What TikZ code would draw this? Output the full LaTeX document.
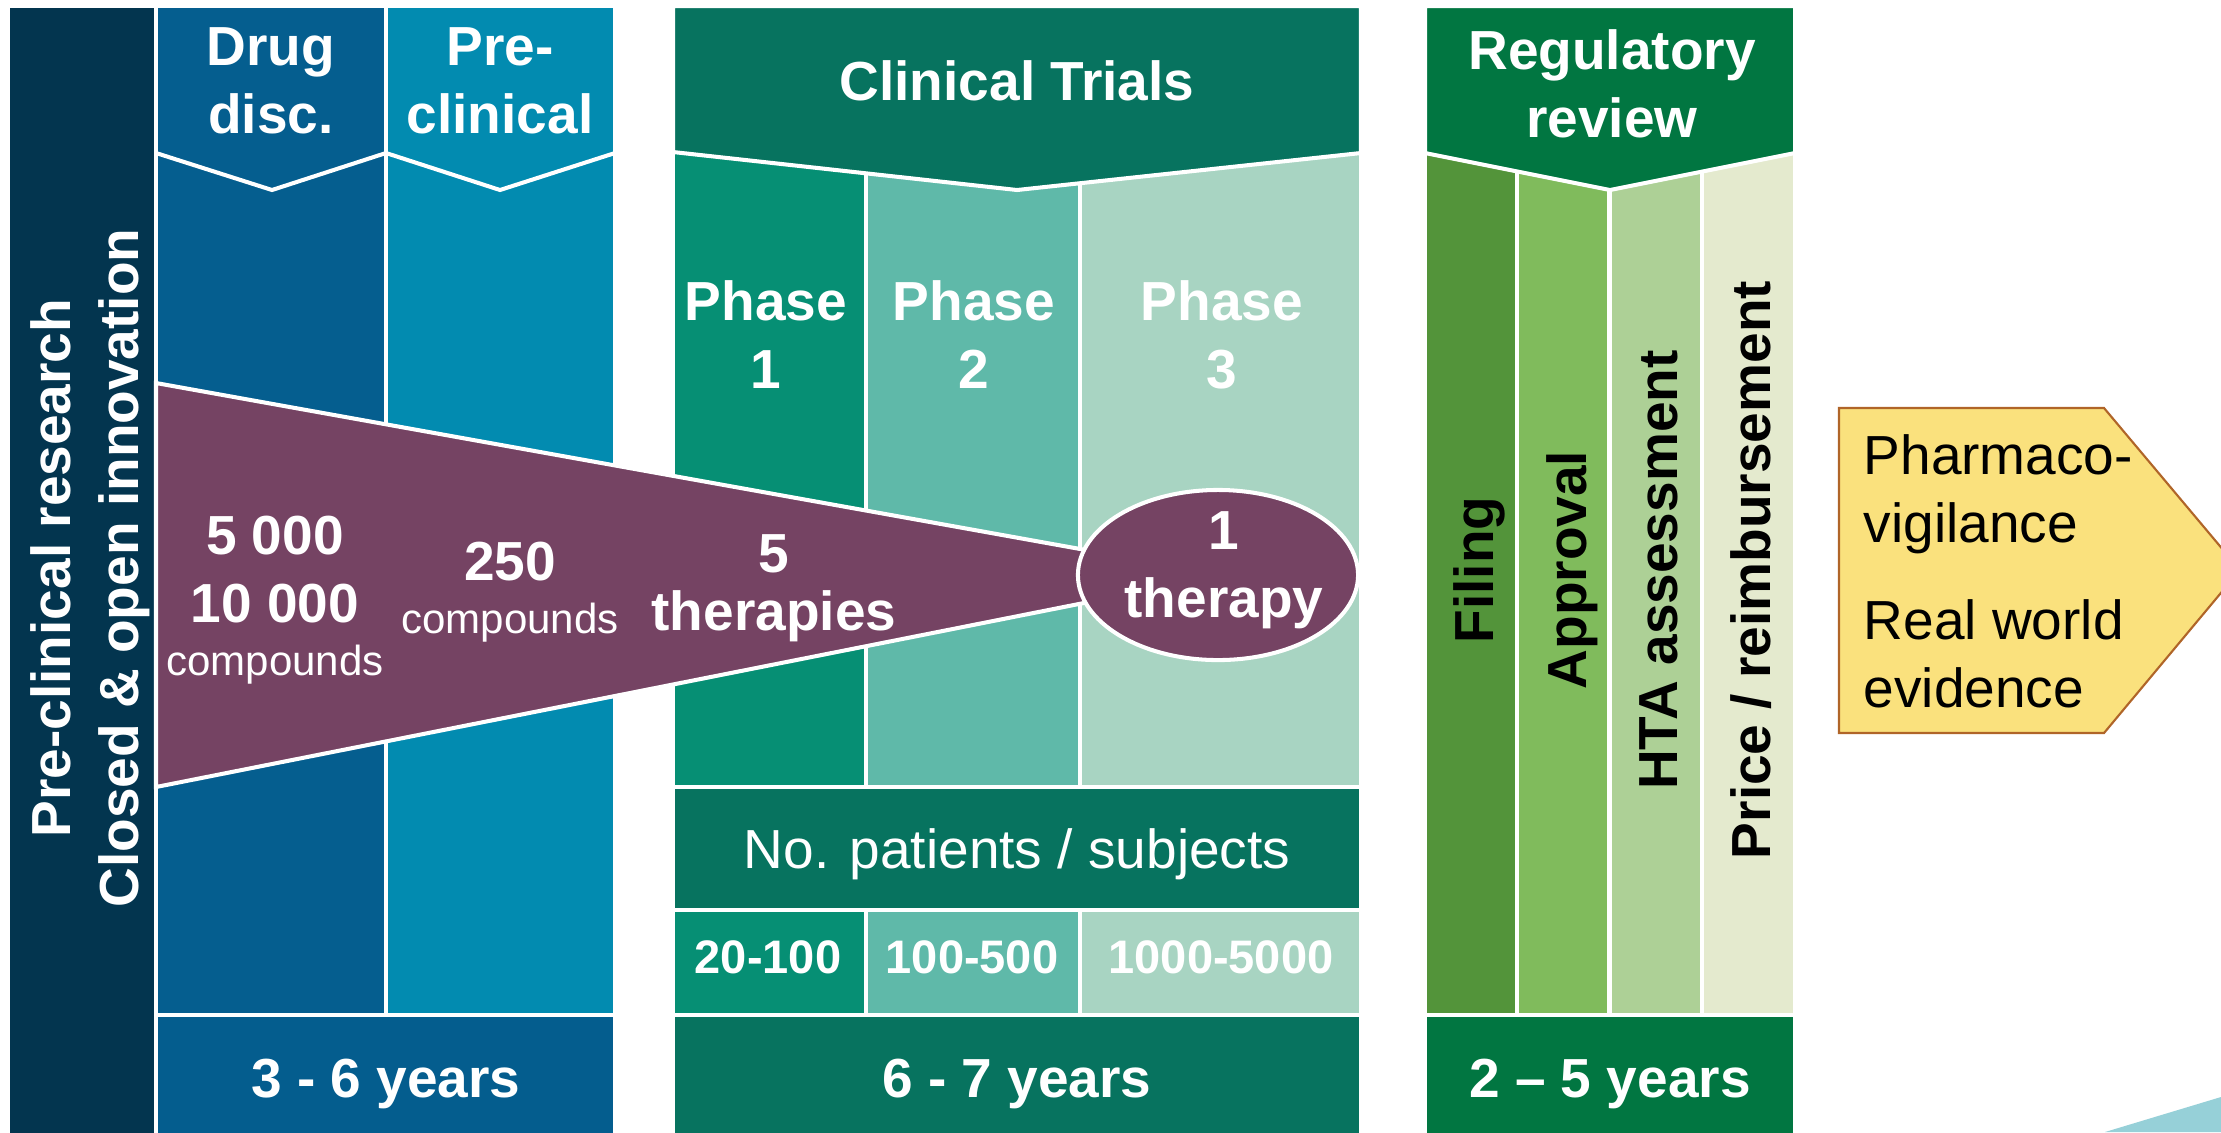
\documentclass[tikz,border=0pt]{standalone}
\usepackage{fontspec}
\setmainfont{Liberation Sans}

\definecolor{navy}{HTML}{03354F}
\definecolor{drugblue}{HTML}{055E8F}
\definecolor{preblue}{HTML}{028BB0}
\definecolor{yearsblue}{HTML}{045D8E}
\definecolor{clingreen}{HTML}{07735F}
\definecolor{phaseone}{HTML}{068F74}
\definecolor{phasetwo}{HTML}{5FB9A9}
\definecolor{phasethree}{HTML}{A8D4C2}
\definecolor{reggreen}{HTML}{017641}
\definecolor{filing}{HTML}{53943A}
\definecolor{approval}{HTML}{80BB5C}
\definecolor{hta}{HTML}{ADD096}
\definecolor{price}{HTML}{E4EACE}
\definecolor{funnel}{HTML}{754363}
\definecolor{pvfill}{HTML}{FAE17D}
\definecolor{pvdraw}{HTML}{B06528}
\definecolor{cornerblue}{HTML}{96D0D8}

\tikzstyle{cell} = [draw=white, line width=1.15pt]
\tikzstyle{big_label} = [text=white, font=\fontsize{15.65}{19.06}\selectfont\bfseries, align=center, inner sep=0pt, anchor=base]
\tikzstyle{side_label} = [big_label, text=black, rotate=90]
\tikzstyle{plain_label} = [text=white, font=\fontsize{15.65}{19.06}\selectfont, align=center, inner sep=0pt, anchor=base]
\tikzstyle{small_label} = [text=white, font=\fontsize{11.95}{14.3}\selectfont, inner sep=0pt, anchor=base]
\tikzstyle{value_label} = [text=white, font=\fontsize{13.37}{16}\selectfont\bfseries, inner sep=0pt, anchor=base]
\tikzstyle{note_label} = [plain_label, text=black, align=left, anchor=base west]

\begin{document}
\begin{tikzpicture}[x=0.01cm, y=-0.01cm]
        \useasboundingbox (0,0) rectangle (2221,1132);
        \fill [white] (0,0) rectangle (2221,1132);
        \clip (0,0) rectangle (2221,1132);

        % pre-clinical block
        \fill [navy, cell] (8,6) rectangle (156,1140);
        \fill [drugblue, cell] (156,6) rectangle (386,1015);
        \fill [preblue, cell] (386,6) rectangle (615,1015);
        \draw [white, line width=1.15pt] (156,153) -- (272,190) -- (386,153) -- (500,190) -- (615,153);
        \fill [yearsblue, cell] (156,1015) rectangle (615,1140);

        % clinical trials block
        \fill [phaseone, cell] (673,150) rectangle (866,787);
        \fill [phasetwo, cell] (866,150) rectangle (1080,787);
        \fill [phasethree, cell] (1080,150) rectangle (1361,787);
        \fill [clingreen, cell] (673,6) -- (1361,6) -- (1361,153) -- (1017,190) -- (673,152) -- cycle;
        \fill [clingreen, cell] (673,787) rectangle (1361,910);
        \fill [phaseone, cell] (673,910) rectangle (866,1015);
        \fill [phasetwo, cell] (866,910) rectangle (1080,1015);
        \fill [phasethree, cell] (1080,910) rectangle (1361,1015);
        \fill [clingreen, cell] (673,1015) rectangle (1361,1140);

        % regulatory block
        \fill [filing, cell] (1425,150) rectangle (1517,1015);
        \fill [approval, cell] (1517,150) rectangle (1609.5,1015);
        \fill [hta, cell] (1609.5,150) rectangle (1702,1015);
        \fill [price, cell] (1702,150) rectangle (1795,1015);
        \fill [reggreen, cell] (1425,6) -- (1795,6) -- (1795,153) -- (1610,190) -- (1425,153) -- cycle;
        \fill [reggreen, cell] (1425,1015) rectangle (1795,1140);

        % funnel
        \fill [funnel, cell] (156,383) -- (1225,575) -- (156,787) -- cycle;
        \fill [funnel, cell] (1218,575) ellipse [x radius=1.40cm, y radius=0.85cm];

        % pharmacovigilance arrow and corner
        \fill [pvfill, draw=pvdraw, line width=0.6pt] (1839,408) -- (2104,408) -- (2240,570) -- (2104,733) -- (1839,733) -- cycle;
        \fill [cornerblue] (2105,1132) -- (2221,1097) -- (2221,1132) -- cycle;

        % headers
        \node (lbl_left) [big_label, rotate=90] at (138,568) {Pre-clinical research\\Closed \& open innovation};
        \node (lbl_drug) [big_label] at (271,133) {Drug\\disc.};
        \node (lbl_precl) [big_label] at (500,133) {Pre-\\clinical};
        \node (lbl_clin) [big_label] at (1017,100) {Clinical Trials};
        \node (lbl_reg) [big_label] at (1612,137) {Regulatory\\review};
        \node (lbl_p1) [big_label] at (766,388) {Phase\\1};
        \node (lbl_p2) [big_label] at (974,388) {Phase\\2};
        \node (lbl_p3) [big_label] at (1222,388) {Phase\\3};

        % funnel counts
        \node (cnt_5000) [big_label] at (275,622) {5 000\\10 000};
        \node (cnt_cmp1) [small_label] at (275,675) {compounds};
        \node (cnt_250) [big_label] at (510,580) {250};
        \node (cnt_cmp2) [small_label] at (510,633) {compounds};
        \node (cnt_5) [big_label] at (774,572) {5};
        \node (cnt_ther) [big_label] at (774,630) {therapies};
        \node (cnt_1) [big_label] at (1224,617) {1\\therapy};

        % patients
        \node (lbl_patients) [plain_label] at (1017,868) {No. patients / subjects};
        \node (val_1) [value_label] at (768,973) {20-100};
        \node (val_2) [value_label] at (972,973) {100-500};
        \node (val_3) [value_label] at (1221,973) {1000-5000};

        % durations
        \node (yrs_pre) [big_label] at (386,1097) {3 - 6 years};
        \node (yrs_clin) [big_label] at (1017,1097) {6 - 7 years};
        \node (yrs_reg) [big_label] at (1610,1097) {2 -- 5 years};

        % regulatory steps
        \node (lbl_filing) [side_label] at (1493,570) {Filing};
        \node (lbl_approval) [side_label] at (1586,570) {Approval};
        \node (lbl_hta) [side_label] at (1677,570) {HTA assessment};
        \node (lbl_price) [side_label] at (1770,570) {Price / reimbursement};

        % after approval
        \node (pv_text) [note_label] at (1863,542) {Pharmaco-\\vigilance};
        \node (rwe_text) [note_label] at (1863,707) {Real world\\evidence};
    \end{tikzpicture}
\end{document}
